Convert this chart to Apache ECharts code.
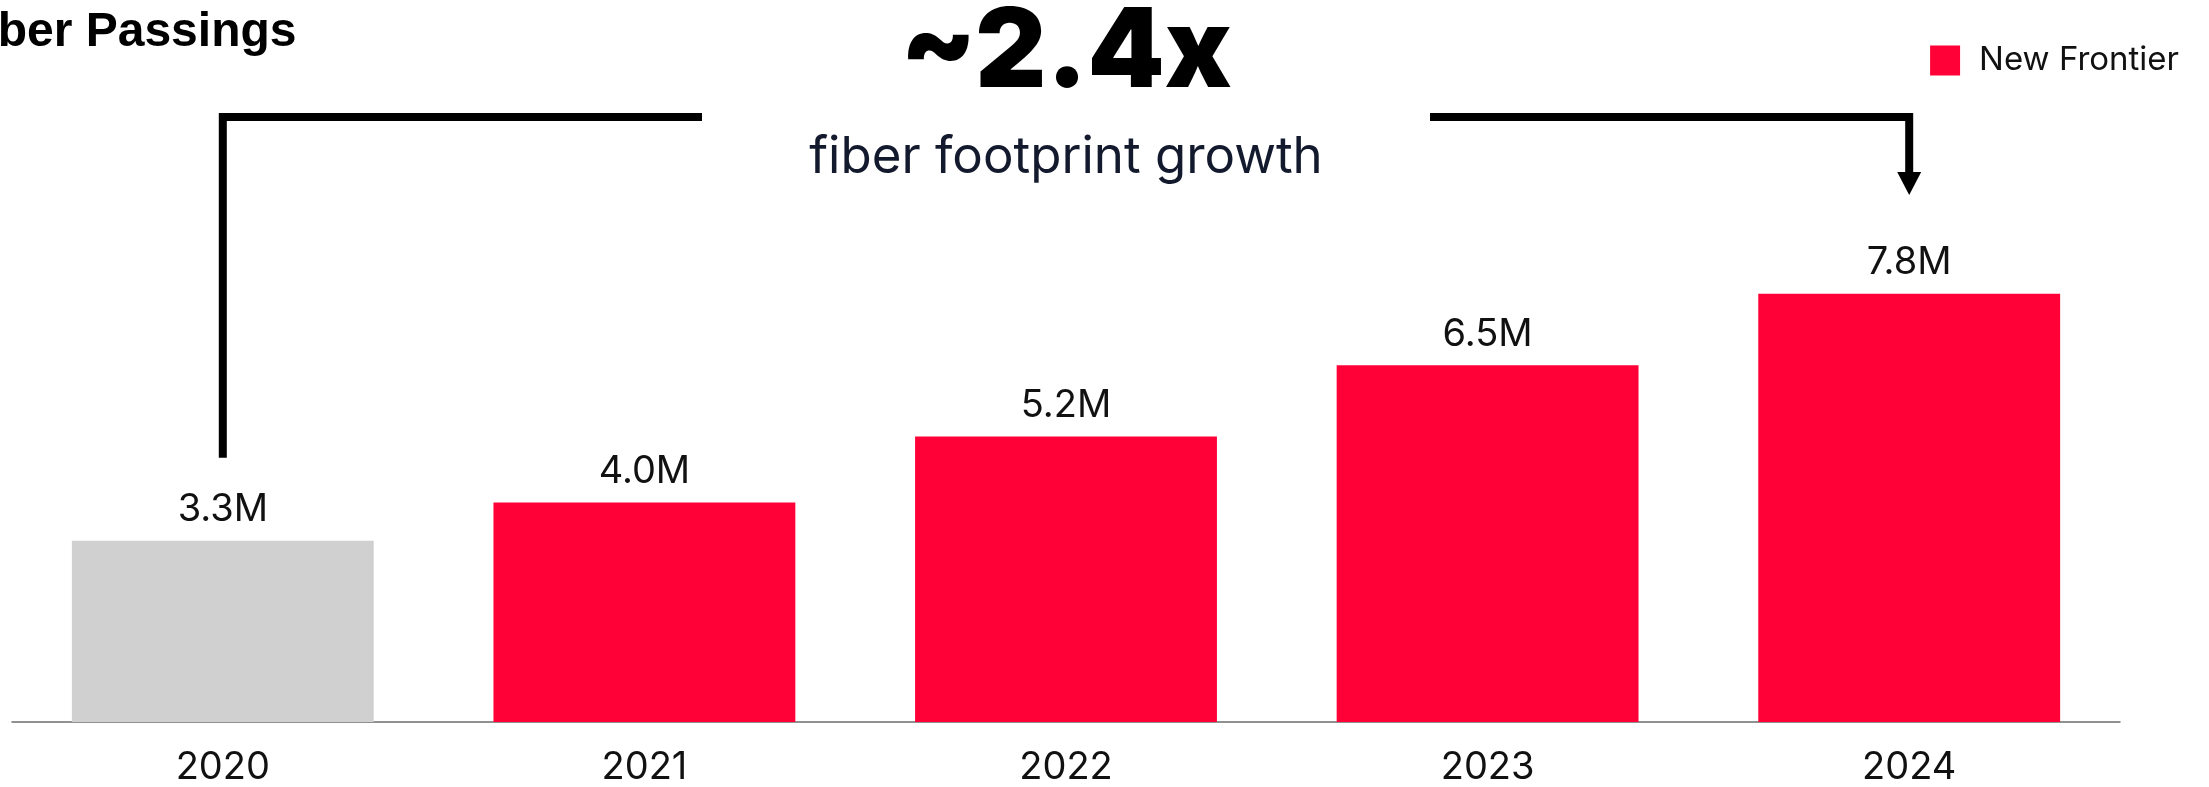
<!DOCTYPE html>
<html><head><meta charset="utf-8">
<script src="https://cdn.jsdelivr.net/npm/echarts@6/dist/echarts.min.js"></script>
<style>html,body{margin:0;padding:0;background:#fff}#c{width:2209px;height:787px}</style>
</head><body><div id="c"></div>
<script>
const categories = ['2020', '2021', '2022', '2023', '2024'];
const values = [3.3, 4.0, 5.2, 6.5, 7.8];
const valueLabels = ['3.3M', '4.0M', '5.2M', '6.5M', '7.8M'];
const seriesName = 'New Frontier';
const titleText = 'Fiber Passings';
const growthText = '~2.4x';
const growthSub = 'fiber footprint growth';

const RED = '#FF0037';
const GREY = '#D0D0D0';
const FONT = 'Inter';

const chart = echarts.init(document.getElementById('c'), null, { renderer: 'canvas' });
chart.setOption({
  animation: false,
  backgroundColor: '#ffffff',
  title: {
    text: titleText, left: -50, top: 4,
    textStyle: { fontFamily: 'Liberation Sans', fontWeight: 'bold', fontSize: 48, color: '#000' }
  },
  legend: {
    data: [seriesName], right: 25, top: 39, icon: 'rect', itemWidth: 30, itemHeight: 30,
    textStyle: { fontFamily: FONT, fontSize: 33, color: '#111', padding: [0, 0, 0, 14] }
  },
  grid: { left: 12, right: 89, top: 173, bottom: 60, containLabel: false },
  xAxis: {
    type: 'category', data: categories,
    axisLine: { lineStyle: { color: '#6e6e6e', width: 1.5 } },
    axisTick: { show: false },
    axisLabel: { fontFamily: FONT, fontSize: 38, color: '#111', margin: 27 }
  },
  yAxis: { type: 'value', min: 0, max: 10, show: false, splitLine: { show: false } },
  series: [{
    name: seriesName, type: 'bar', barCategoryGap: '28.4%',
    itemStyle: { color: RED },
    data: values.map((v, i) => i === 0 ? { value: v, itemStyle: { color: GREY } } : v),
    label: {
      show: true, position: 'top', distance: 12,
      fontFamily: FONT, fontSize: 38, color: '#111',
      formatter: p => valueLabels[p.dataIndex]
    }
  }]
});

const p0 = chart.convertToPixel({ gridIndex: 0 }, [0, values[0]]);
const p4 = chart.convertToPixel({ gridIndex: 0 }, [4, values[4]]);
const cx = (p0[0] + p4[0]) / 2;
const lineY = 117;
const LW = 8;
const halfGap = 364;

chart.setOption({
  graphic: [
    { type: 'polyline', shape: { points: [[p0[0], p0[1] - 83], [p0[0], lineY], [cx - halfGap, lineY]] },
      style: { stroke: '#000', lineWidth: LW, fill: null, lineJoin: 'miter', lineCap: 'butt' } },
    { type: 'polyline', shape: { points: [[cx + halfGap, lineY], [p4[0], lineY], [p4[0], 174]] },
      style: { stroke: '#000', lineWidth: LW, fill: null, lineJoin: 'miter', lineCap: 'butt' } },
    { type: 'polygon', shape: { points: [[p4[0] - 12, 172], [p4[0] + 12, 172], [p4[0], 195]] },
      style: { fill: '#000' } },
    { type: 'text', x: cx, y: 54,
      style: { text: growthText, fontFamily: FONT, fontWeight: 900, fontSize: 110, fill: '#000',
        align: 'center', verticalAlign: 'middle' } },
    { type: 'text', x: cx, y: 158,
      style: { text: growthSub, fontFamily: FONT, fontWeight: 400, fontSize: 51, fill: '#141a2e',
        align: 'center', verticalAlign: 'middle' } }
  ]
});
</script></body></html>
